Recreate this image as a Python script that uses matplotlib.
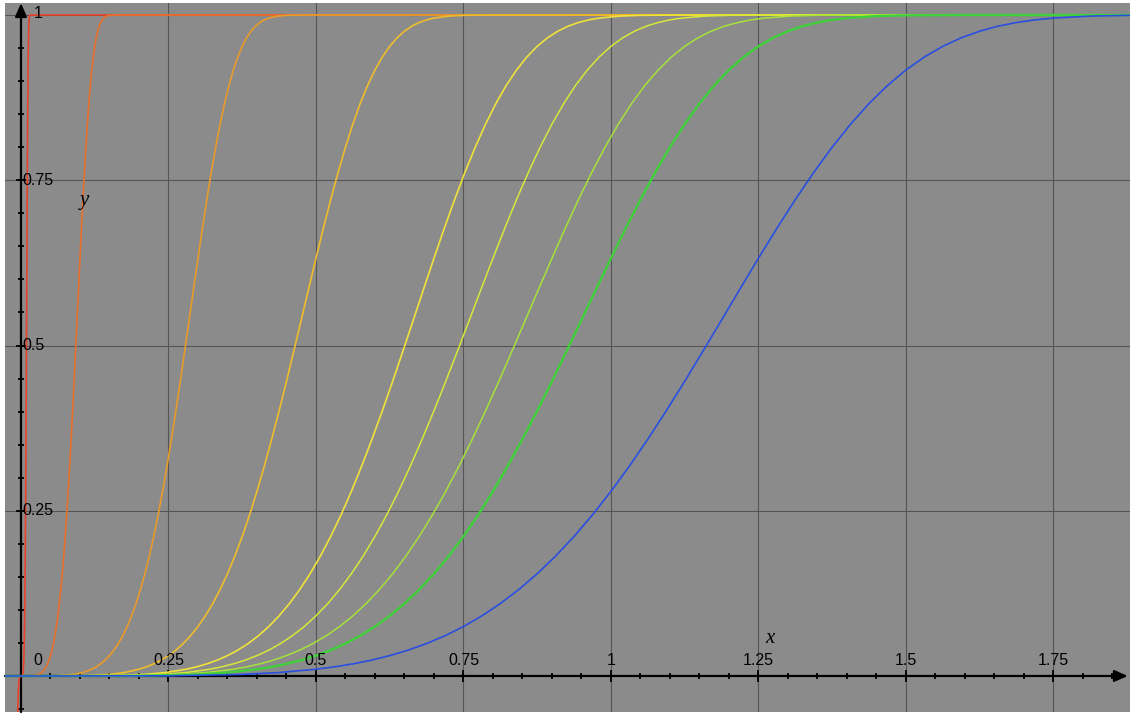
import numpy as np
import matplotlib.pyplot as plt

# y levels (shared) and, for every curve, the x where it reaches each level
levels = [0, 0.0003, 0.0024, 0.0052, 0.0102, 0.0138, 0.0183, 0.0239, 0.0308,
          0.0391, 0.0491, 0.0609, 0.0748, 0.0910, 0.1096, 0.1308, 0.1547,
          0.1815, 0.2112, 0.2439, 0.2794, 0.3177, 0.3584, 0.4013, 0.4459,
          0.4920, 0.5387, 0.5857, 0.6321, 0.6774, 0.7209, 0.7620, 0.8002,
          0.8350, 0.8662, 0.8935, 0.9169, 0.9366, 0.9527, 0.9656, 0.9756,
          0.9832, 0.9887, 0.9927, 0.9954, 0.9984, 0.9995, 1.0]

x_red = [0, 0.002, 0.003, 0.0035, 0.004, 0.00425, 0.0045, 0.00475, 0.005,
         0.00525, 0.0055, 0.00575, 0.006, 0.00625, 0.0065, 0.00675, 0.007,
         0.00725, 0.0075, 0.00775, 0.008, 0.00825, 0.0085, 0.00875, 0.009,
         0.00925, 0.0095, 0.00975, 0.01, 0.01025, 0.0105, 0.01075, 0.011,
         0.01125, 0.0115, 0.01175, 0.012, 0.01225, 0.0125, 0.01275, 0.013,
         0.01325, 0.0135, 0.01375, 0.014, 0.0145, 0.015, 0.016]
x_orangered = [0, 0.02, 0.03, 0.035, 0.04, 0.0425, 0.045, 0.0475, 0.05,
               0.0525, 0.055, 0.0575, 0.06, 0.0625, 0.065, 0.0675, 0.07,
               0.0725, 0.075, 0.0775, 0.08, 0.0825, 0.085, 0.0875, 0.09,
               0.0925, 0.095, 0.0975, 0.1, 0.1025, 0.105, 0.1075, 0.11,
               0.1125, 0.115, 0.1175, 0.12, 0.1225, 0.125, 0.1275, 0.13,
               0.1325, 0.135, 0.1375, 0.14, 0.145, 0.15, 0.16]
x_orange = [0, 0.06, 0.09, 0.105, 0.12, 0.1275, 0.135, 0.1425, 0.15, 0.1575,
            0.165, 0.1725, 0.18, 0.1875, 0.195, 0.2025, 0.21, 0.2175, 0.225,
            0.2325, 0.24, 0.2475, 0.255, 0.2625, 0.27, 0.2775, 0.285, 0.2925,
            0.3, 0.3075, 0.315, 0.3225, 0.33, 0.3375, 0.345, 0.3525, 0.36,
            0.3675, 0.375, 0.3825, 0.39, 0.3975, 0.405, 0.4125, 0.42, 0.435,
            0.45, 0.48]
x_gold = [0, 0.1, 0.15, 0.175, 0.2, 0.2125, 0.225, 0.2375, 0.25, 0.2625,
          0.275, 0.2875, 0.3, 0.3125, 0.325, 0.3375, 0.35, 0.3625, 0.375,
          0.3875, 0.4, 0.4125, 0.425, 0.4375, 0.45, 0.4625, 0.475, 0.4875,
          0.5, 0.5125, 0.525, 0.5375, 0.55, 0.5625, 0.575, 0.5875, 0.6,
          0.6125, 0.625, 0.6375, 0.65, 0.6625, 0.675, 0.6875, 0.7, 0.725,
          0.75, 0.8]
x_yellow = [0, 0.14, 0.21, 0.245, 0.28, 0.2975, 0.315, 0.3325, 0.35, 0.3675,
            0.385, 0.4025, 0.42, 0.4375, 0.455, 0.4725, 0.49, 0.5075, 0.525,
            0.5425, 0.56, 0.5775, 0.595, 0.6125, 0.63, 0.6475, 0.665, 0.6825,
            0.7, 0.7175, 0.735, 0.7525, 0.77, 0.7875, 0.805, 0.8225, 0.84,
            0.8575, 0.875, 0.8925, 0.91, 0.9275, 0.945, 0.9625, 0.98, 1.015,
            1.05, 1.12]
x_ygreen = [0, 0.16, 0.24, 0.28, 0.32, 0.34, 0.36, 0.38, 0.4, 0.42, 0.44,
            0.46, 0.48, 0.5, 0.52, 0.54, 0.56, 0.58, 0.6, 0.62, 0.64, 0.66,
            0.68, 0.7, 0.72, 0.74, 0.76, 0.78, 0.8, 0.82, 0.84, 0.86, 0.88,
            0.9, 0.92, 0.94, 0.96, 0.98, 1.0, 1.02, 1.04, 1.06, 1.08, 1.1,
            1.12, 1.16, 1.2, 1.28]
x_lgreen = [0, 0.18, 0.27, 0.315, 0.36, 0.3825, 0.405, 0.4275, 0.45, 0.4725,
            0.495, 0.5175, 0.54, 0.5625, 0.585, 0.6075, 0.63, 0.6525, 0.675,
            0.6975, 0.72, 0.7425, 0.765, 0.7875, 0.81, 0.8325, 0.855, 0.8775,
            0.9, 0.9225, 0.945, 0.9675, 0.99, 1.0125, 1.035, 1.0575, 1.08,
            1.1025, 1.125, 1.1475, 1.17, 1.1925, 1.215, 1.2375, 1.26, 1.305,
            1.35, 1.44]
x_green = [0, 0.2, 0.3, 0.35, 0.4, 0.425, 0.45, 0.475, 0.5, 0.525, 0.55,
           0.575, 0.6, 0.625, 0.65, 0.675, 0.7, 0.725, 0.75, 0.775, 0.8,
           0.825, 0.85, 0.875, 0.9, 0.925, 0.95, 0.975, 1.0, 1.025, 1.05,
           1.075, 1.1, 1.125, 1.15, 1.175, 1.2, 1.225, 1.25, 1.275, 1.3,
           1.325, 1.35, 1.375, 1.4, 1.45, 1.5, 1.6]
x_blue = [0, 0.25, 0.375, 0.4375, 0.5, 0.53125, 0.5625, 0.59375, 0.625,
          0.65625, 0.6875, 0.71875, 0.75, 0.78125, 0.8125, 0.84375, 0.875,
          0.90625, 0.9375, 0.96875, 1.0, 1.03125, 1.0625, 1.09375, 1.125,
          1.15625, 1.1875, 1.21875, 1.25, 1.28125, 1.3125, 1.34375, 1.375,
          1.40625, 1.4375, 1.46875, 1.5, 1.53125, 1.5625, 1.59375, 1.625,
          1.65625, 1.6875, 1.71875, 1.75, 1.8125, 1.875, 2.0]

# red curve dips below the x axis just left of 0
red_neg_x = [-0.0068, -0.0055, -0.004, -0.002]
red_neg_y = [-0.156, -0.0516, -0.0103, -0.0003]

curves = [x_red, x_orangered, x_orange, x_gold, x_yellow, x_ygreen,
          x_lgreen, x_green, x_blue]
colors = ['#e8432a', '#e8702c', '#e89a2a', '#eebc2c', '#f0e23a', '#d6e83a',
          '#a6e23a', '#3fd13a', '#2a4fe0']
widths = [1.2, 1.2, 1.2, 1.2, 1.2, 1.1, 1.1, 1.7, 1.2]

xticks = [0.25, 0.5, 0.75, 1, 1.25, 1.5, 1.75]
xtick_labels = ['0.25', '0.5', '0.75', '1', '1.25', '1.5', '1.75']
yticks = [0.25, 0.5, 0.75, 1]
ytick_labels = ['0.25', '0.5', '0.75', '1']

XMIN, XMAX = -0.0271, 1.8797
YMIN, YMAX = -0.0545, 1.0182

fig = plt.figure(figsize=(11.3, 7.14), dpi=100)
ax = fig.add_axes([5 / 1130, 2 / 714, 1125 / 1130, 709 / 714])
ax.set_facecolor('#8b8b8b')
ax.set_xlim(XMIN, XMAX)
ax.set_ylim(YMIN, YMAX)
for s in ax.spines.values():
    s.set_visible(False)
ax.set_xticks([])
ax.set_yticks([])

# grid
for gx in xticks:
    ax.axvline(gx, color='#555555', lw=0.8, zorder=1)
for gy in yticks:
    ax.axhline(gy, color='#555555', lw=0.8, zorder=1)

# axes with arrows
arrow = dict(arrowstyle='-|>,head_length=0.8,head_width=0.35', color='black',
             lw=1.6, mutation_scale=10, shrinkA=0, shrinkB=0)
ax.annotate('', xy=(1.876, 0), xytext=(XMIN, 0), arrowprops=arrow, zorder=2)
ax.annotate('', xy=(0, 1.018), xytext=(0, YMIN), arrowprops=arrow, zorder=2)

# tick marks
minor_x = np.arange(0.05, 1.86, 0.05)
ax.plot(minor_x, np.zeros_like(minor_x), ls='none', marker='|', ms=4,
        mew=1.3, color='black', zorder=2)
ax.plot(xticks, np.zeros(len(xticks)), ls='none', marker='|', ms=8.5,
        mew=1.3, color='black', zorder=2)
minor_y = np.arange(-0.05, 1.0, 0.05)
ax.plot(np.zeros_like(minor_y), minor_y, ls='none', marker='_', ms=4,
        mew=1.3, color='black', zorder=2)
ax.plot(np.zeros(len(yticks)), yticks, ls='none', marker='_', ms=7.5,
        mew=1.3, color='black', zorder=2)

# curves
for i, (xs, c, w) in enumerate(zip(curves, colors, widths)):
    assert len(xs) == len(levels)
    xx = [XMIN] + xs + [XMAX]
    yy = [0] + levels + [1]
    if i == 0:
        xx = red_neg_x + xs + [XMAX]
        yy = red_neg_y + levels + [1]
    ax.plot(xx, yy, color=c, lw=w, zorder=3, solid_capstyle='butt')

# tick labels
tf = dict(family='Liberation Sans', fontsize=11.5, color='black', zorder=4)
for v, t in zip(xticks, xtick_labels):
    ax.text(v, 0.024, t, ha='center', va='center', **tf)
ax.text(0.028, 0.024, '0', ha='center', va='center', **tf)
for v, t in zip(yticks, ytick_labels):
    if t == '1':
        ax.text(0.022, 1.003, t, ha='left', va='center', **tf)
    else:
        ax.text(0.003, v, t, ha='left', va='center', **tf)

# axis names
ax.text(1.269, 0.057, 'x', family='Liberation Serif', style='italic',
        fontsize=15, ha='center', va='center', zorder=4)
ax.text(0.108, 0.72, 'y', family='Liberation Serif', style='italic',
        fontsize=15, ha='center', va='center', zorder=4)

fig.savefig('out.png', dpi=100)
